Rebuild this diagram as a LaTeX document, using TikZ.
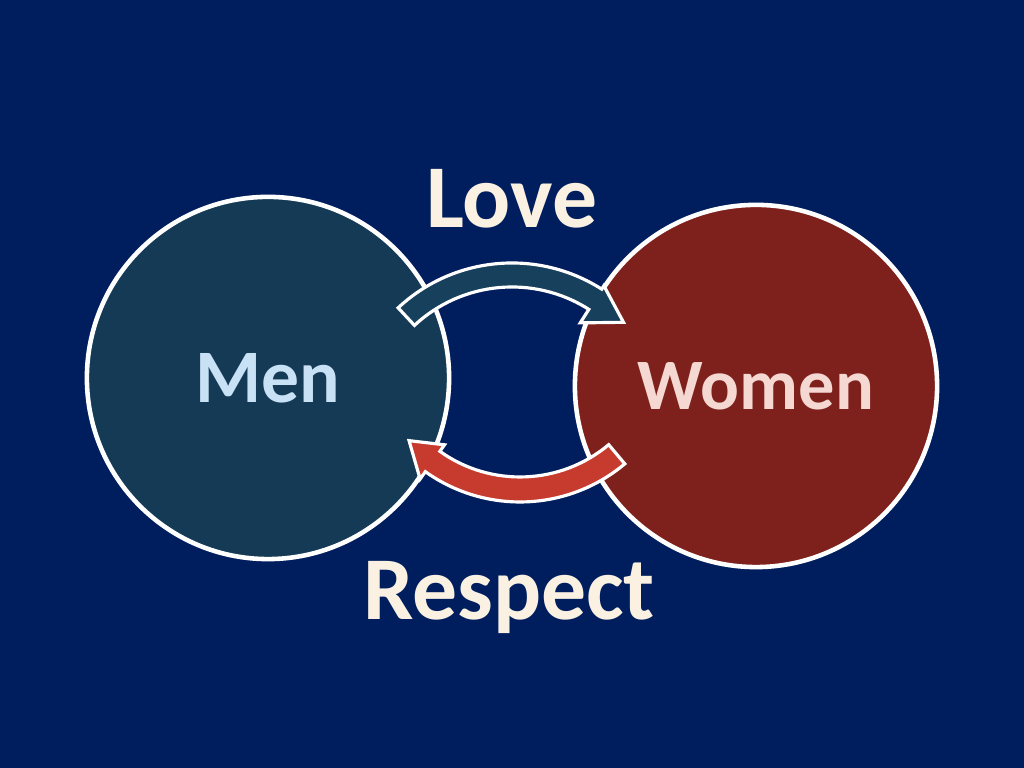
\documentclass[tikz,border=0pt]{standalone}
\usepackage{fontspec}
\setmainfont{Carlito}
\usepackage{xcolor}
\usepackage{tikz}
\definecolor{navybg}{HTML}{001E5E}
\definecolor{menfill}{HTML}{143A56}
\definecolor{womenfill}{HTML}{7E211C}
\definecolor{lovefill}{HTML}{17405C}
\definecolor{respred}{HTML}{C63B2E}
\definecolor{respdark}{HTML}{8C3A2C}
\definecolor{cream}{HTML}{FBF1E2}
\definecolor{menink}{HTML}{C8E1F5}
\definecolor{womenink}{HTML}{F5D8D2}
% #1 style, #2 centre, #3 tail angle, #4 head base angle, #5 tip angle,
% #6 inner radius, #7 outer radius, #8 head inner, #9 head outer
\newcommand{\bendarrow}[9]{%
  \path[#1,shift={(#2)}] (#3:#7) arc[start angle=#3,end angle=#4,radius=#7]
    -- (#4:#9) -- (#5:{(#6+#7)/2}) -- (#4:#8) -- (#4:#6)
    arc[start angle=#4,end angle=#3,radius=#6] -- cycle;}

\begin{document}
\begin{tikzpicture}[x=0.01cm,y=0.01cm,
  ring/.style={circle,draw=white,line width=1.3pt,minimum size=3.62cm,
    inner sep=0pt,font=\fontsize{21.5}{24}\selectfont\bfseries},
  word/.style={anchor=base,text=cream,font=\fontsize{25.5}{28}\selectfont\bfseries},
  band/.style={draw=white,line width=0.9pt,line join=miter}]
  \useasboundingbox (0,0) rectangle (1024,768);
  \fill[navybg] (0,0) rectangle (1024,768);
  \node[ring,fill=menfill,text=menink] (men) at (268,390) {Men};
  \node[ring,fill=womenfill,text=womenink,
    font=\fontsize{20.6}{24}\selectfont\bfseries] (women) at (756,382) {Women};
  \node[word] (love) at (512,540) {Love};
  \node[word] (respect) at (509,148) {Respect};
  \coordinate (lovec) at (512,338);
  \coordinate (respc) at (520,429);
  \bendarrow{band,fill=lovefill}{lovec}{133}{57.5}{44}{143}{167}{127}{171}
  \bendarrow{band,left color=respred,middle color=respdark,right color=respred}{respc}{-50}{-125.5}{-137.5}{138}{163}{130}{172}
\end{tikzpicture}
\end{document}
